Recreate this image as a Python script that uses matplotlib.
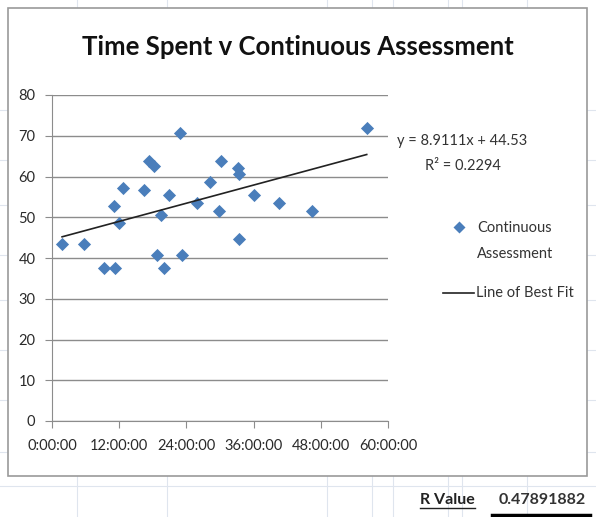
import numpy as np
import matplotlib
matplotlib.use("Agg")
import matplotlib.pyplot as plt
from matplotlib.patches import Rectangle
from matplotlib.lines import Line2D

plt.rcParams['font.family'] = ['Lato', 'DejaVu Sans']

# time spent (hours) and continuous assessment marks
hours = [1.8, 5.8, 9.3, 11.2, 11.0, 12.7, 12.0, 16.5, 17.3, 18.3, 18.7, 19.4,
         20.9, 20.0, 22.9, 23.2, 25.9, 28.2, 29.8, 30.2, 33.2, 33.4, 33.4,
         36.1, 40.6, 46.4, 56.2]
marks = [43.5, 43.5, 37.5, 37.5, 52.8, 57.3, 48.5, 56.7, 63.8, 62.6, 40.7, 50.6,
         55.5, 37.5, 70.6, 40.7, 53.4, 58.7, 51.5, 63.8, 62.0, 60.5, 44.7,
         55.5, 53.6, 51.5, 71.8]

slope = 8.9111   # per day
intercept = 44.53
r2 = 0.2294
r_value = 0.47891882

xticks = [0, 12, 24, 36, 48, 60]
yticks = [0, 10, 20, 30, 40, 50, 60, 70, 80]

fig = plt.figure(figsize=(5.96, 5.17), dpi=100)
W, H = 596, 517

def fx(px):
    return px / W

def fy(py):
    return 1 - py / H

# spreadsheet cell lines behind chart
for px in [77, 167, 327, 393, 462, 372, 448, 527]:
    fig.add_artist(Line2D([fx(px), fx(px)], [0, 1], color='#dfe5ee', lw=0.8, zorder=0))
for py in [110, 160, 205, 255, 300, 350, 400, 452, 486]:
    fig.add_artist(Line2D([0, 1], [fy(py), fy(py)], color='#dfe5ee', lw=0.8, zorder=0))

# chart area box
fig.add_artist(Rectangle((fx(8), fy(476)), fx(587) - fx(8), fy(8) - fy(476),
                         facecolor='white', edgecolor='#9a9a9a', lw=1.2, zorder=1))

ax = fig.add_axes([fx(52), fy(421), fx(388) - fx(52), fy(95) - fy(421)])
ax.set_zorder(2)
ax.set_facecolor('none')

ax.scatter(hours, marks, marker='D', s=45, color='#4a7ebb', zorder=3,
           linewidths=0)
tx = np.array([min(hours), max(hours)])
ax.plot(tx, intercept + slope * tx / 24, color='#222222', lw=1.2, zorder=4)

ax.set_xlim(0, 60)
ax.set_ylim(0, 80)
ax.set_xticks(xticks)
ax.set_xticklabels(['%d:00:00' % h for h in xticks])
ax.set_yticks(yticks)
ax.yaxis.grid(True, color='#8c8c8c', lw=1.0)
ax.set_axisbelow(True)
for s in ['top', 'right']:
    ax.spines[s].set_visible(False)
ax.spines['left'].set_color('#8c8c8c')
ax.spines['bottom'].set_color('#8c8c8c')
ax.tick_params(axis='both', colors='#8c8c8c', labelcolor='#2a2a2a',
               labelsize=10.5, length=5)
ax.tick_params(axis='x', pad=8)
ax.tick_params(axis='y', pad=7)

fig.text(0.5, fy(47), 'Time Spent v Continuous Assessment', ha='center',
         va='center', fontsize=18.5, fontweight='bold', color='#111111')

fig.text(fx(462), fy(141), 'y = %.4fx + %.2f' % (slope, intercept), ha='center',
         va='center', fontsize=10.5, color='#333333')
fig.text(fx(463), fy(166), 'R\u00b2 = %.4f' % r2, ha='center', va='center',
         fontsize=10.5, color='#333333')

# legend
fig.add_artist(Line2D([fx(459)], [fy(227)], marker='D', ms=6.5, color='#4a7ebb',
                      mec='none', ls='none'))
fig.text(fx(477), fy(228), 'Continuous', va='center', fontsize=10.5, color='#333333')
fig.text(fx(477), fy(254), 'Assessment', va='center', fontsize=10.5, color='#333333')
fig.add_artist(Line2D([fx(443), fx(474)], [fy(293), fy(293)], color='#222222', lw=1.2))
fig.text(fx(476), fy(293), 'Line of Best Fit', va='center', fontsize=10.5, color='#333333')

# bottom cells
fig.text(fx(447), fy(500), 'R Value', ha='center', va='center', fontsize=11.5,
         fontweight='bold', color='#222222')
fig.add_artist(Line2D([fx(420), fx(475)], [fy(508), fy(508)], color='#222222', lw=1))
fig.text(fx(586), fy(500), '%.8f' % r_value, ha='right', va='center',
         fontsize=11.5, fontweight='bold', color='#333333')
fig.add_artist(Line2D([fx(492), fx(590)], [fy(515), fy(515)], color='black', lw=2.5))

fig.savefig('out.png', dpi=100)
